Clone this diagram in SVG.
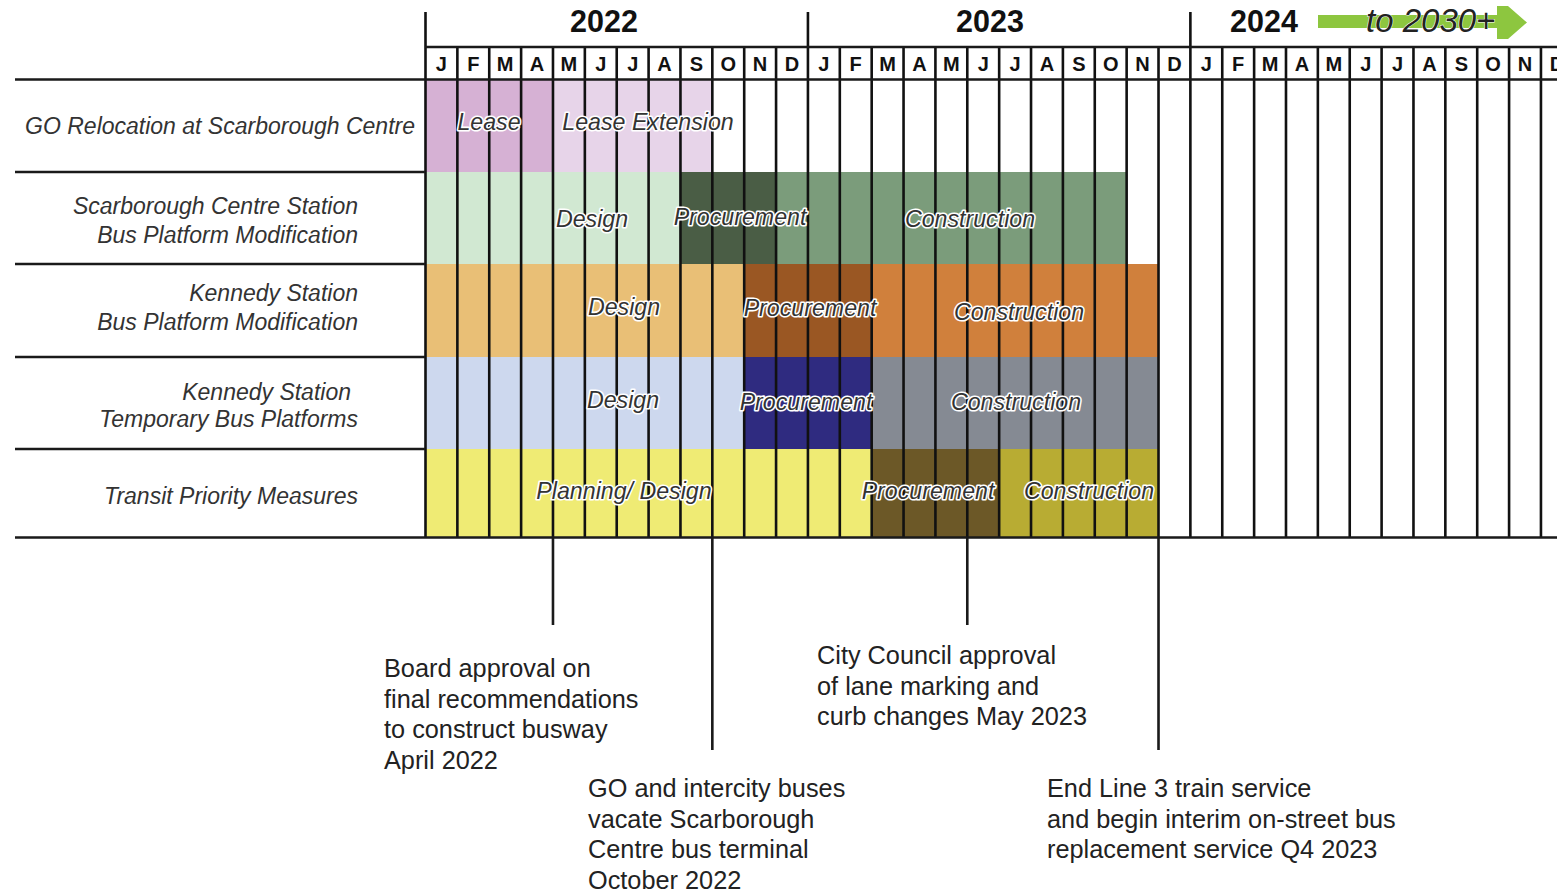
<svg xmlns="http://www.w3.org/2000/svg" width="1557" height="893" viewBox="0 0 1557 893">
<style>
.bg{fill:#ffffff}
.grid{stroke:#111;stroke-width:2.6;fill:none}
.hl{stroke:#1a1a1a;stroke-width:2.6;fill:none}
.ms{stroke:#1a1a1a;stroke-width:2.6;fill:none}
.mon{font-family:"Liberation Sans",Arial,sans-serif;font-weight:bold;font-size:20px;fill:#111;text-anchor:middle}
.yr{font-family:"Liberation Sans",Arial,sans-serif;font-weight:bold;font-size:30.5px;fill:#111;text-anchor:middle}
.task{font-family:"Liberation Sans",Arial,sans-serif;font-style:italic;font-size:23px;fill:#333;text-anchor:end}
.bar{font-family:"Liberation Sans",Arial,sans-serif;font-style:italic;font-size:23.2px;fill:#333;text-anchor:middle;stroke:#fff;stroke-width:3.2;stroke-linejoin:round;paint-order:stroke}
.note{font-family:"Liberation Sans",Arial,sans-serif;font-size:25.3px;fill:#222}
.to{font-family:"Liberation Sans",Arial,sans-serif;font-style:italic;font-size:33px;fill:#222;stroke:#fff;stroke-width:1;paint-order:stroke}
</style>
<rect class="bg" x="0" y="0" width="1557" height="893"/>

<g id="row-go">
<rect x="425.5" y="80" width="127.5" height="92" fill="#d6b1d4"/>
<rect x="553" y="80" width="159.3" height="92" fill="#e7d4e9"/>
</g>
<g id="row-scarborough">
<rect x="425.5" y="172" width="255" height="92" fill="#d1e8d2"/>
<rect x="680.5" y="172" width="95.6" height="92" fill="#4a5d45"/>
<rect x="776" y="172" width="350.6" height="92" fill="#7b9c7b"/>
</g>
<g id="row-kennedy-mod">
<rect x="425.5" y="264" width="318.7" height="93" fill="#e9bf76"/>
<rect x="744.2" y="264" width="127.5" height="93" fill="#9a5723"/>
<rect x="871.7" y="264" width="286.8" height="93" fill="#d0803c"/>
</g>
<g id="row-kennedy-temp">
<rect x="425.5" y="357" width="318.7" height="92" fill="#cdd8ee"/>
<rect x="744.2" y="357" width="127.5" height="92" fill="#2f2b80"/>
<rect x="871.7" y="357" width="286.8" height="92" fill="#858a93"/>
</g>
<g id="row-transit">
<rect x="425.5" y="449" width="446.2" height="88" fill="#efeb74"/>
<rect x="871.7" y="449" width="127.5" height="88" fill="#6c5827"/>
<rect x="999.2" y="449" width="159.3" height="88" fill="#b8ac33"/>
</g>

<g id="grid">
<path class="grid" d="M457.37 47V537M489.24 47V537M521.11 47V537M552.98 47V537M584.85 47V537M616.72 47V537M648.59 47V537M680.46 47V537M712.33 47V537M744.2 47V537M776.07 47V537M839.81 47V537M871.68 47V537M903.55 47V537M935.42 47V537M967.29 47V537M999.16 47V537M1031.03 47V537M1062.9 47V537M1094.77 47V537M1126.64 47V537M1158.51 47V537M1222.25 47V537M1254.12 47V537M1285.99 47V537M1317.86 47V537M1349.73 47V537M1381.6 47V537M1413.47 47V537M1445.34 47V537M1477.21 47V537M1509.08 47V537M1540.95 47V537"/>
<path class="grid" d="M425.5 12V537M807.94 12V537M1190.38 12V537"/>
<path class="hl" d="M425 47H1557M15 79.5H1557M15 172H425M15 264H425M15 357H425M15 449H425M15 537.5H1557"/>
</g>

<g id="header">
<text class="yr" x="604" y="31.5">2022</text>
<text class="yr" x="990" y="32">2023</text>
<text class="yr" x="1264" y="31.5">2024</text>
<polygon points="1318,15 1497,15 1497,6 1508,6 1527,22.5 1508,39 1497,39 1497,28 1318,28" fill="#8dc63f"/>
<text class="to" x="1366" y="32">to 2030+</text>
<g class="mon-labels">
<text class="mon" x="441.4" y="71">J</text>
<text class="mon" x="473.3" y="71">F</text>
<text class="mon" x="505.2" y="71">M</text>
<text class="mon" x="537" y="71">A</text>
<text class="mon" x="568.9" y="71">M</text>
<text class="mon" x="600.8" y="71">J</text>
<text class="mon" x="632.7" y="71">J</text>
<text class="mon" x="664.5" y="71">A</text>
<text class="mon" x="696.4" y="71">S</text>
<text class="mon" x="728.3" y="71">O</text>
<text class="mon" x="760.1" y="71">N</text>
<text class="mon" x="792" y="71">D</text>
<text class="mon" x="823.9" y="71">J</text>
<text class="mon" x="855.7" y="71">F</text>
<text class="mon" x="887.6" y="71">M</text>
<text class="mon" x="919.5" y="71">A</text>
<text class="mon" x="951.4" y="71">M</text>
<text class="mon" x="983.2" y="71">J</text>
<text class="mon" x="1015.1" y="71">J</text>
<text class="mon" x="1047" y="71">A</text>
<text class="mon" x="1078.8" y="71">S</text>
<text class="mon" x="1110.7" y="71">O</text>
<text class="mon" x="1142.6" y="71">N</text>
<text class="mon" x="1174.4" y="71">D</text>
<text class="mon" x="1206.3" y="71">J</text>
<text class="mon" x="1238.2" y="71">F</text>
<text class="mon" x="1270.1" y="71">M</text>
<text class="mon" x="1301.9" y="71">A</text>
<text class="mon" x="1333.8" y="71">M</text>
<text class="mon" x="1365.7" y="71">J</text>
<text class="mon" x="1397.5" y="71">J</text>
<text class="mon" x="1429.4" y="71">A</text>
<text class="mon" x="1461.3" y="71">S</text>
<text class="mon" x="1493.1" y="71">O</text>
<text class="mon" x="1525" y="71">N</text>
<text class="mon" x="1556.9" y="71">D</text>
</g>
</g>

<g id="task-labels">
<text class="task" x="415" y="134">GO Relocation at Scarborough Centre</text>
<text class="task" x="358" y="213.5">Scarborough Centre Station</text>
<text class="task" x="358" y="242.5">Bus Platform Modification</text>
<text class="task" x="358" y="301">Kennedy Station</text>
<text class="task" x="358" y="330">Bus Platform Modification</text>
<text class="task" x="351" y="400">Kennedy Station</text>
<text class="task" x="358" y="427">Temporary Bus Platforms</text>
<text class="task" x="358" y="504">Transit Priority Measures</text>
</g>

<g id="bar-labels">
<text class="bar" x="489" y="130">Lease</text>
<text class="bar" x="648" y="130">Lease Extension</text>
<text class="bar" x="592" y="227">Design</text>
<text class="bar" x="740" y="225">Procurement</text>
<text class="bar" x="970" y="227">Construction</text>
<text class="bar" x="624" y="315">Design</text>
<text class="bar" x="810" y="316">Procurement</text>
<text class="bar" x="1019" y="320">Construction</text>
<text class="bar" x="623" y="408">Design</text>
<text class="bar" x="806" y="410">Procurement</text>
<text class="bar" x="1016" y="410">Construction</text>
<text class="bar" x="624" y="499">Planning/ Design</text>
<text class="bar" x="928" y="499">Procurement</text>
<text class="bar" x="1089" y="499">Construction</text>
</g>

<g id="connectors">
<path class="ms" d="M552.98 537V625M712.33 537V750M967.29 537V625M1158.51 537V750"/>
</g>

<g id="milestone-board">
<text class="note" x="384" y="677">Board approval on</text>
<text class="note" x="384" y="707.5">final recommendations</text>
<text class="note" x="384" y="738">to construct busway</text>
<text class="note" x="384" y="768.5">April 2022</text>
</g>
<g id="milestone-go">
<text class="note" x="588" y="797">GO and intercity buses</text>
<text class="note" x="588" y="827.5">vacate Scarborough</text>
<text class="note" x="588" y="858">Centre bus terminal</text>
<text class="note" x="588" y="888.5">October 2022</text>
</g>
<g id="milestone-council">
<text class="note" x="817" y="664">City Council approval</text>
<text class="note" x="817" y="694.5">of lane marking and</text>
<text class="note" x="817" y="725">curb changes May 2023</text>
</g>
<g id="milestone-line3">
<text class="note" x="1047" y="797">End Line 3 train service</text>
<text class="note" x="1047" y="827.5">and begin interim on-street bus</text>
<text class="note" x="1047" y="858">replacement service Q4 2023</text>
</g>
</svg>
